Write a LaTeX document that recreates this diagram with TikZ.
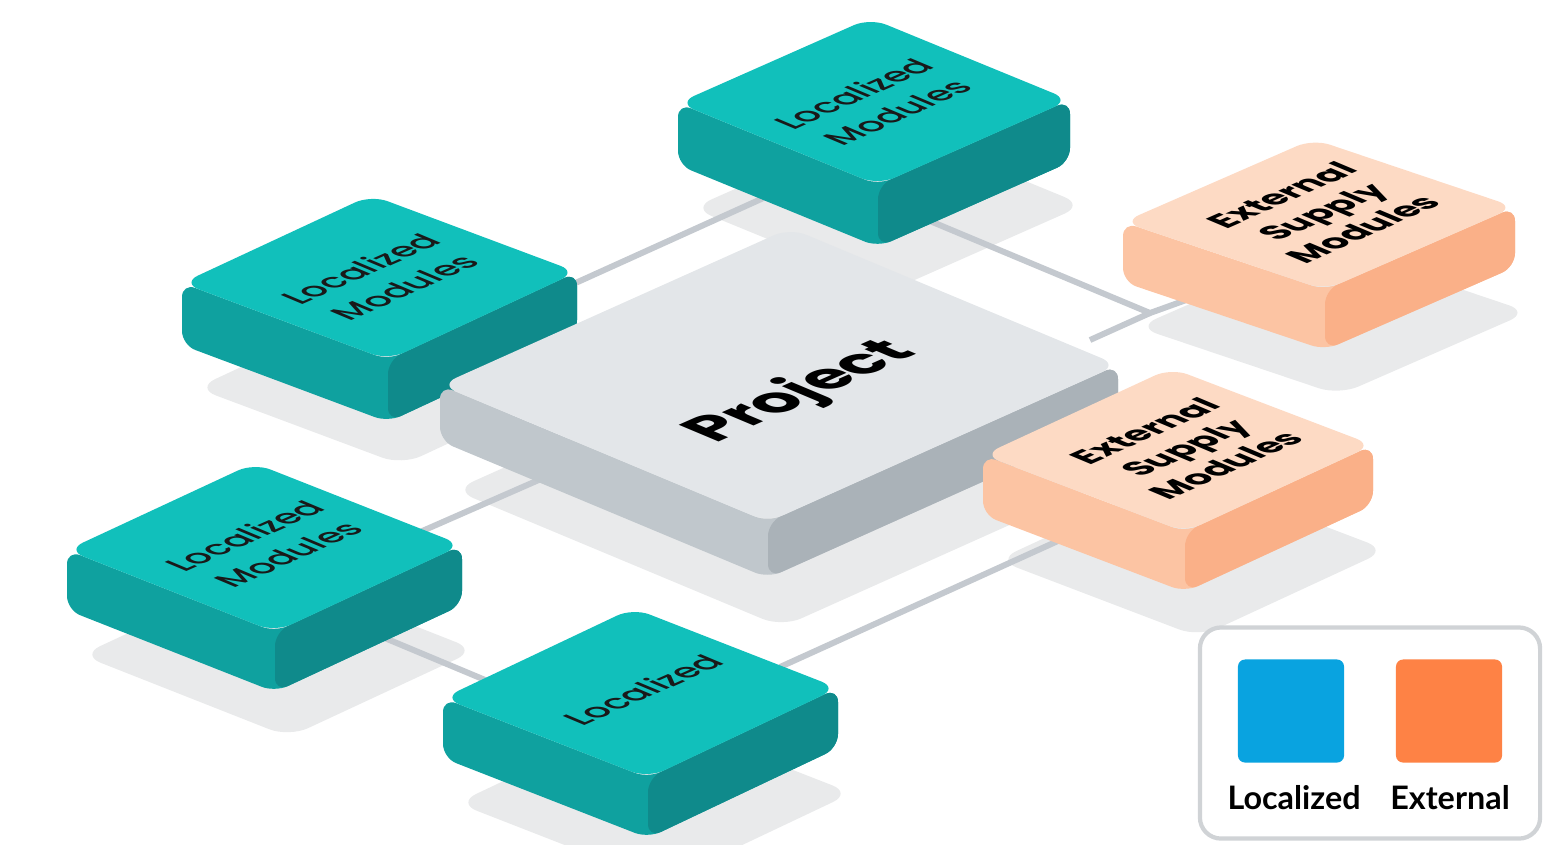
\documentclass[tikz,border=0pt]{standalone}
\usepackage{fontspec}
\setmainfont{Poppins}
\newfontfamily\popmed{Poppins Medium}
\newfontfamily\legfont{Lato}
\usetikzlibrary{calc}
\definecolor{tealtop}{RGB}{17,192,187}
\definecolor{tealleft}{RGB}{15,161,159}
\definecolor{tealright}{RGB}{15,138,139}
\definecolor{peachtop}{RGB}{253,218,196}
\definecolor{peachleft}{RGB}{252,196,163}
\definecolor{peachright}{RGB}{250,176,136}
\definecolor{greytop}{RGB}{227,230,233}
\definecolor{greyleft}{RGB}{192,199,204}
\definecolor{greyright}{RGB}{170,178,184}
\definecolor{floorgrey}{RGB}{233,234,235}
\definecolor{linkgrey}{RGB}{196,201,207}
\definecolor{legline}{RGB}{208,211,214}
\definecolor{legblue}{RGB}{9,163,224}
\definecolor{legorange}{RGB}{254,130,69}

% #1 slab name, #2 colour prefix, #3 thickness
\newcommand{\slab}[3]{%
 \coordinate (#1-t) at ($(#1-l)+(#1-r)-(#1-b)$);
 \fill[#2left,rounded corners=4pt] (#1-l) -- ($(#1-l)+(0,#3)$) -- ($(#1-b)+(0,#3)$) -- ($(#1-r)+(0,#3)$) -- (#1-r) -- (#1-b) -- cycle;
 \fill[#2right,rounded corners=4pt] (#1-b) -- ($(#1-b)+(0,#3)$) -- ($(#1-r)+(0,#3)$) -- (#1-r) -- cycle;
 \fill[#2top,rounded corners=5pt] (#1-l) -- (#1-b) -- (#1-r) -- (#1-t) -- cycle;
}

\begin{document}
\begin{tikzpicture}[x=0.01cm,y=-0.01cm,
 lbl/.style={align=center,inner sep=0pt,cm={0.915,0.403,-0.922,0.387,(0,0)}},
 loc/.style={lbl,text=black!90,font=\popmed\fontsize{9.6}{13.5}\selectfont},
 ext/.style={lbl,text=black,font=\bfseries\fontsize{9.8}{12.5}\selectfont},
 link/.style={draw=linkgrey,line width=1.7pt},
 floor/.style={fill=floorgrey,rounded corners=6pt},
 swatch/.style={minimum width=1.06cm,minimum height=1.03cm,rounded corners=2pt,inner sep=0pt},
 legtxt/.style={font=\legfont\bfseries\fontsize{9.2}{11}\selectfont}]
\useasboundingbox (0,0) rectangle (1546,844);
% slab corners: left, front, right
\coordinate (ul-l) at (182,283); \coordinate (ul-b) at (388,360); \coordinate (ul-r) at (577,272);
\coordinate (ll-l) at (67,550); \coordinate (ll-b) at (275,632); \coordinate (ll-r) at (462,545);
\coordinate (bt-l) at (443,698); \coordinate (bt-b) at (648,778); \coordinate (bt-r) at (838,688);
\coordinate (pr-l) at (440,385); \coordinate (pr-b) at (768,522); \coordinate (pr-r) at (1118,365);
\coordinate (tm-l) at (678,103); \coordinate (tm-b) at (878,185); \coordinate (tm-r) at (1070,100);
\coordinate (ru-l) at (1123,222); \coordinate (ru-b) at (1325,290); \coordinate (ru-r) at (1515,207);
\coordinate (rl-l) at (983,455); \coordinate (rl-b) at (1185,532); \coordinate (rl-r) at (1373,445);
% shadows on the floor
\foreach \s in {ul,ll,bt,pr,tm,ru,rl}
 \fill[floor] ($(\s-l)+(14,105)$) -- ($(\s-b)+(14,105)$) -- ($(\s-r)+(14,105)$) -- ($(\s-l)+(\s-r)-(\s-b)+(14,105)$) -- cycle;
% links
\coordinate (ul-e) at (560,290); \coordinate (tm-w) at (770,195);
\coordinate (tm-s) at (930,221); \coordinate (hub) at (1150,313);
\coordinate (ru-w) at (1200,295); \coordinate (pr-e) at (1090,340);
\coordinate (ll-e) at (420,532); \coordinate (pr-w) at (550,475);
\coordinate (ll-s) at (380,636); \coordinate (bt-w) at (490,682);
\coordinate (bt-e) at (780,667); \coordinate (rl-w) at (1060,540);
\draw[link] (ul-e) -- (tm-w);
\draw[link] (tm-s) -- (hub) -- (ru-w);
\draw[link] (hub) -- (pr-e);
\draw[link] (ll-e) -- (pr-w);
\draw[link] (ll-s) -- (bt-w);
\draw[link] (bt-e) -- (rl-w);
% slabs, back to front
\slab{ul}{teal}{62}
\node[loc] (ul) at (382,278) {Localized\\Modules};
\slab{ll}{teal}{60}
\node[loc] (ll) at (266,545) {Localized\\Modules};
\slab{bt}{teal}{60}
\node[loc] (bt) at (643,690) {Localized};
\slab{pr}{grey}{56}
\node[lbl,font=\bfseries\fontsize{17.5}{21}\selectfont] (pr) at (802,392) {Project};
\slab{tm}{teal}{62}
\node[loc] (tm) at (875,103) {Localized\\Modules};
\slab{ru}{peach}{60}
\node[ext] (ru) at (1322,212) {External\\Supply\\Modules};
\slab{rl}{peach}{60}
\node[ext] (rl) at (1185,448) {External\\Supply\\Modules};
% legend
\node[draw=legline,line width=1.2pt,fill=white,rounded corners=6pt,minimum width=3.4cm,minimum height=2.11cm] (leg) at (1370,733) {};
\node[swatch,fill=legblue] (sw-loc) at (1291,711) {};
\node[swatch,fill=legorange] (sw-ext) at (1449,711) {};
\node[legtxt] (t-loc) at (1294,798) {Localized};
\node[legtxt] (t-ext) at (1450,798) {External};
\end{tikzpicture}
\end{document}
